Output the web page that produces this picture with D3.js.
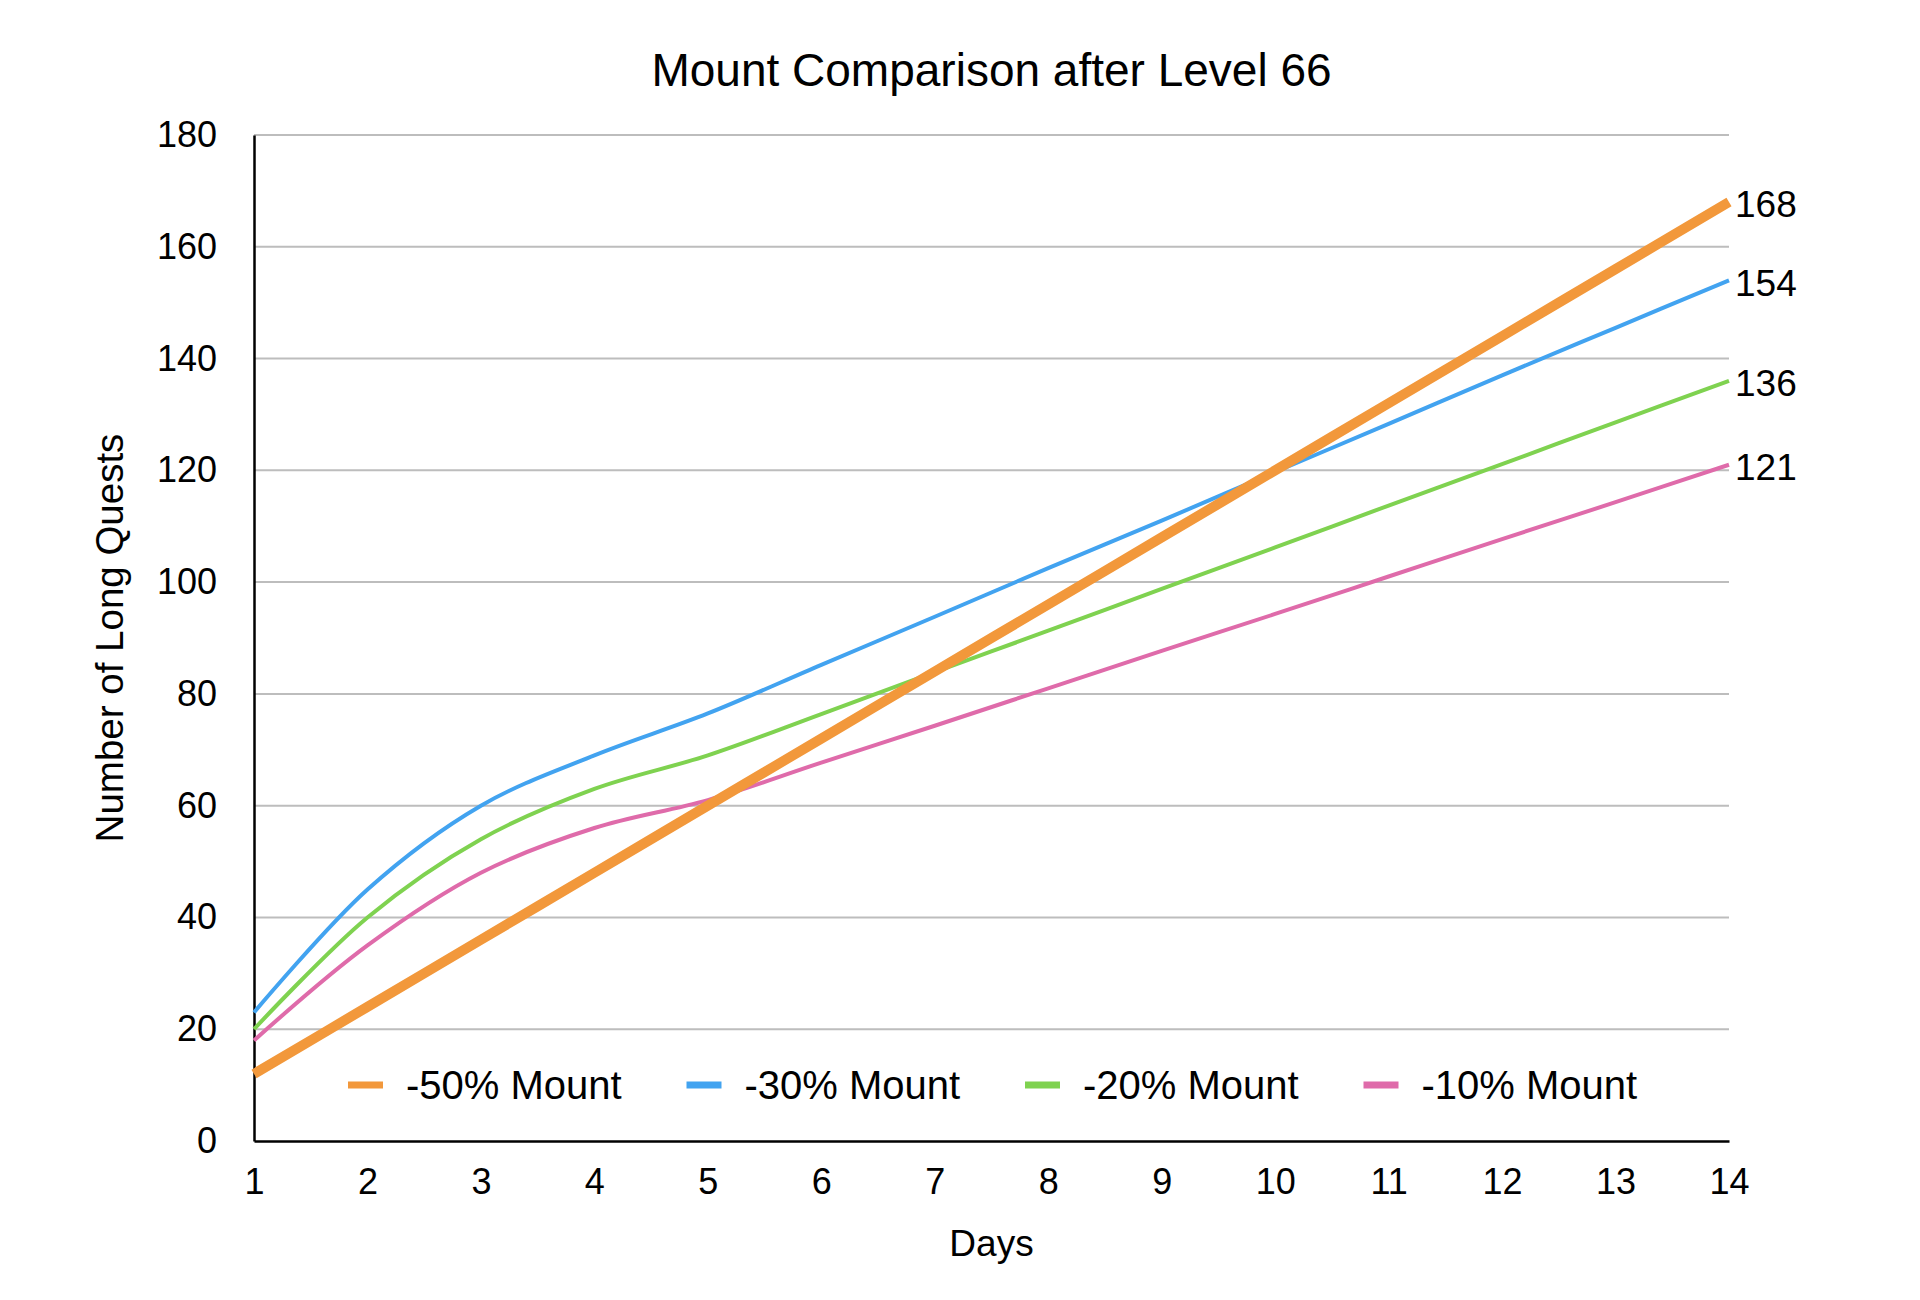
<!DOCTYPE html>
<html>
<head>
<meta charset="utf-8">
<script src="https://cdn.jsdelivr.net/npm/d3@7"></script>
<style>
  body { margin: 0; background: #fff; }
  svg { display: block; font-family: "Liberation Sans", Arial, Helvetica, sans-serif; }
</style>
</head>
<body>
<div id="chart"></div>
<script>
// days on the x axis
const days = [1, 2, 3, 4, 5, 6, 7, 8, 9, 10, 11, 12, 13, 14];

// long quests per series
const mount50 = [12, 24, 36, 48, 60, 72, 84, 96, 108, 120, 132, 144, 156, 168];
const mount30 = [23, 45, 60, 69, 76.5, 85.2, 93.8, 102.5, 111, 119.7, 128.3, 137, 145.5, 154];
const mount20 = [20, 40, 54, 63, 69, 76.4, 83.9, 91.3, 98.8, 106.2, 113.7, 121.1, 128.6, 136];
const mount10 = [18, 35, 48, 56, 61, 67.7, 74.3, 81, 87.7, 94.3, 101, 107.7, 114.3, 121];

const seriesNames = ["-50% Mount", "-30% Mount", "-20% Mount", "-10% Mount"];
const seriesColors = ["#F2983B", "#42A3F0", "#7FD250", "#DF6BAA"];
const yTicks = [0, 20, 40, 60, 80, 100, 120, 140, 160, 180];

const series = [mount50, mount30, mount20, mount10].map((vals, i) => ({
  name: seriesNames[i],
  color: seriesColors[i],
  width: i === 0 ? 10 : 4,
  values: vals.map((v, j) => ({ day: days[j], v: v }))
}));

const W = 1920, H = 1300;
const margin = { top: 135, right: 191, bottom: 159, left: 254 };
const width = W - margin.left - margin.right,
  height = H - margin.top - margin.bottom;

const svg = d3.select("#chart").append("svg")
  .attr("width", W)
  .attr("height", H);

const g = svg.append("g")
  .attr("transform", `translate(${margin.left},${margin.top})`);

const x = d3.scaleLinear().domain([1, 14]).range([0, width]);
const y = d3.scaleLinear().domain([0, 180]).range([height, 0]);

// title
svg.append("text")
  .attr("x", margin.left + width / 2)
  .attr("y", 86)
  .attr("text-anchor", "middle")
  .style("font-size", "46px")
  .text("Mount Comparison after Level 66");

// horizontal grid
g.selectAll(".grid")
  .data(yTicks.filter(d => d > 0))
  .enter().append("line")
  .attr("class", "grid")
  .attr("x1", 0)
  .attr("x2", width)
  .attr("y1", d => y(d))
  .attr("y2", d => y(d))
  .attr("stroke", "#bdbdbd")
  .attr("stroke-width", 2);

// axes
const yAxis = d3.axisLeft(y).tickValues(yTicks).tickSize(0).tickPadding(37);
const xAxis = d3.axisBottom(x).tickValues(days).tickFormat(d3.format("d")).tickSize(0).tickPadding(27);

g.append("g")
  .attr("class", "y axis")
  .call(yAxis)
  .call(a => a.select(".domain").attr("stroke", "#000").attr("stroke-width", 2.5))
  .selectAll("text")
  .style("font-size", "36px")
  .attr("fill", "#000");

g.append("g")
  .attr("class", "x axis")
  .attr("transform", `translate(0,${height})`)
  .call(xAxis)
  .call(a => a.select(".domain").attr("stroke", "#000").attr("stroke-width", 2.5))
  .selectAll("text")
  .style("font-size", "36px")
  .attr("fill", "#000");

// axis titles
svg.append("text")
  .attr("x", margin.left + width / 2)
  .attr("y", 1256)
  .attr("text-anchor", "middle")
  .style("font-size", "37px")
  .text("Days");

svg.append("text")
  .attr("transform", `translate(123,${margin.top + height / 2}) rotate(-90)`)
  .attr("text-anchor", "middle")
  .style("font-size", "38.5px")
  .text("Number of Long Quests");

// lines, thick orange one on top
const line = d3.line()
  .x(d => x(d.day))
  .y(d => y(d.v))
  .curve(d3.curveCatmullRom.alpha(0.5));

g.selectAll(".series")
  .data(series.slice().reverse())
  .enter().append("path")
  .attr("class", "series")
  .attr("fill", "none")
  .attr("stroke", d => d.color)
  .attr("stroke-width", d => d.width)
  .attr("stroke-linejoin", "round")
  .attr("d", d => line(d.values));

// end value labels
g.selectAll(".end-label")
  .data(series)
  .enter().append("text")
  .attr("class", "end-label")
  .attr("x", d => x(14) + 6)
  .attr("y", d => y(d.values[d.values.length - 1].v) + 2)
  .attr("dy", "0.36em")
  .style("font-size", "37px")
  .text(d => d.values[d.values.length - 1].v);

// legend
const legend = g.append("g")
  .attr("transform", `translate(94,${y(0) - 56})`);

const item = legend.selectAll(".legend-item")
  .data(series)
  .enter().append("g")
  .attr("class", "legend-item")
  .attr("transform", (d, i) => `translate(${i * 338.5},0)`);

item.append("line")
  .attr("x1", 0)
  .attr("x2", 35)
  .attr("stroke", d => d.color)
  .attr("stroke-width", 7);

item.append("text")
  .attr("x", 58)
  .attr("dy", "0.36em")
  .style("font-size", "40px")
  .text(d => d.name);
</script>
</body>
</html>
